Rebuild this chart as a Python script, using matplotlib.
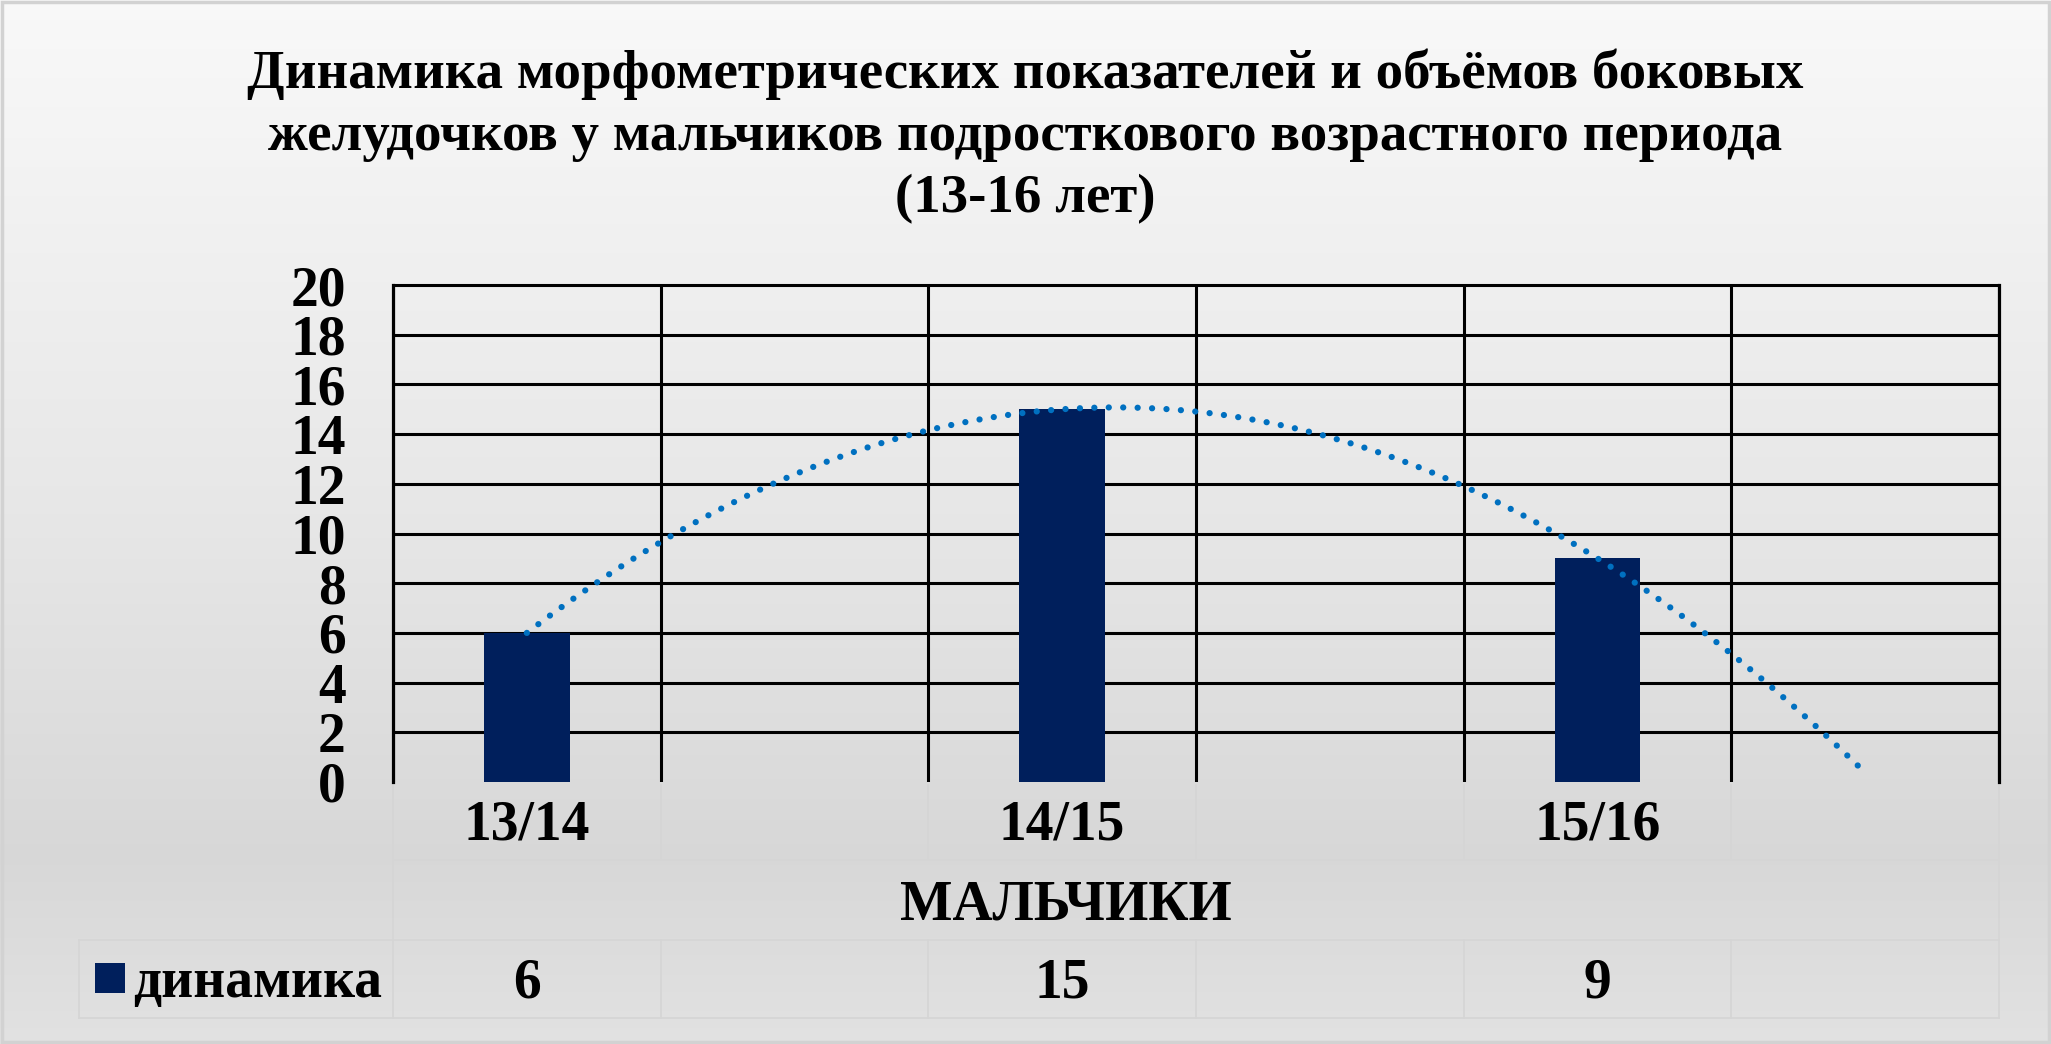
import numpy as np
import matplotlib
matplotlib.use("Agg")
import matplotlib.pyplot as plt
from matplotlib.patches import Rectangle
from matplotlib.transforms import blended_transform_factory
from matplotlib.colors import LinearSegmentedColormap

# ---- data ----
title = ("Динамика морфометрических показателей и объёмов боковых\n"
         "желудочков у мальчиков подросткового возрастного периода\n"
         "(13-16 лет)")
categories = ["13/14", "", "14/15", "", "15/16", ""]
values = [6, np.nan, 15, np.nan, 9, np.nan]
series_name = "динамика"
axis_title = "МАЛЬЧИКИ"
y_ticks = [0, 2, 4, 6, 8, 10, 12, 14, 16, 18, 20]

W, H = 2051, 1044
DPI = 100
FONT = "Liberation Serif"
FS = 40
NAVY = "#001F5C"
TREND = "#0070C0"

plt.rcParams['font.family'] = [FONT, 'DejaVu Serif']
plt.rcParams['font.weight'] = 'bold'

fig = plt.figure(figsize=(W / DPI, H / DPI), dpi=DPI)

def fx(px):
    return px / W

def fy(py):
    return 1 - py / H

# ---- background gradient ----
bg = fig.add_axes([0, 0, 1, 1], zorder=-10)
bg.set_axis_off()
cmap = LinearSegmentedColormap.from_list(
    "bg", [(0.0, (0.975,) * 3), (0.5, (0.905,) * 3), (0.82, (0.845,) * 3), (1.0, (0.885,) * 3)])
grad = np.linspace(0, 1, 512).reshape(-1, 1)
bg.imshow(grad, aspect="auto", cmap=cmap, extent=[0, 1, 0, 1], origin="upper")
bg.set_xlim(0, 1)
bg.set_ylim(0, 1)
fig.patches.append(Rectangle((0.0008, 0.0015), 0.9984, 0.997, transform=fig.transFigure,
                             fill=False, edgecolor="#d2d2d2", lw=2.5))

# ---- plot area ----
L, R, T, B = 393, 1999, 285, 782
ax = fig.add_axes([fx(L), fy(B), fx(R) - fx(L), fy(T) - fy(B)])
ax.patch.set_alpha(0)
x = np.arange(len(categories))
vals = np.array(values, dtype=float)
ax.bar(x, vals, width=0.32, color=NAVY, zorder=3)

# polynomial (order 2) trend line, forecast one period forward
mask = ~np.isnan(vals)
coef = np.polyfit(x[mask], vals[mask], 2)
xs = np.linspace(x[mask][0], x[-1], 300)
ax.plot(xs, np.polyval(coef, xs), color=TREND, lw=4.5,
        linestyle=(0, (0.01, 2.3)), dash_capstyle="round", zorder=4)

ax.set_xlim(-0.5, len(categories) - 0.5)
ax.set_ylim(y_ticks[0], y_ticks[-1])
ax.set_yticks(y_ticks)
ax.set_yticklabels([str(v) for v in y_ticks], fontsize=FS, fontweight="bold")
ax.tick_params(axis="y", length=0, pad=34)
ax.set_xticks([])
for s in ["top", "bottom"]:
    ax.spines[s].set_visible(False)
for s in ["left", "right"]:
    ax.spines[s].set_linewidth(2.3)
    ax.spines[s].set_color("black")
ax.hlines(y_ticks[1:], -0.5, len(categories) - 0.5, colors="black", lw=2.2,
          clip_on=False, zorder=2)
ax.vlines(np.arange(len(categories) + 1) - 0.5, y_ticks[0], y_ticks[-1],
          colors="black", lw=2.2, zorder=2)

# ---- data table ----
tr = blended_transform_factory(ax.transData, fig.transFigure)
for xi, lab in zip(x, categories):
    ax.text(xi, fy(840), lab, transform=tr, ha="center", va="baseline",
            fontsize=FS, fontweight="bold")
for xi, v in zip(x, vals):
    if not np.isnan(v):
        ax.text(xi, fy(997), f"{v:g}", transform=tr, ha="center", va="baseline",
                fontsize=FS, fontweight="bold")
fig.text(fx(1066), fy(920), axis_title, ha="center", va="baseline",
         fontsize=FS, fontweight="bold")

# faint table lines
tcol = "#d5d5d5"
tlw = 1.2
bounds = np.arange(len(categories) + 1) - 0.5
for b in bounds:
    ax.plot([b, b], [fy(785), fy(860)], transform=tr, color=tcol, lw=tlw, clip_on=False, zorder=1)
    ax.plot([b, b], [fy(940), fy(1018)], transform=tr, color=tcol, lw=tlw, clip_on=False, zorder=1)
ax.plot([bounds[0], bounds[0]], [fy(860), fy(940)], transform=tr, color=tcol, lw=tlw, clip_on=False)
ax.plot([bounds[-1], bounds[-1]], [fy(860), fy(940)], transform=tr, color=tcol, lw=tlw, clip_on=False)
ax.plot([bounds[0], bounds[-1]], [fy(860), fy(860)], transform=tr, color=tcol, lw=tlw, clip_on=False)
for yy in (940, 1018):
    fig.add_artist(plt.Line2D([fx(79), fx(R)], [fy(yy), fy(yy)], color=tcol, lw=tlw))
fig.add_artist(plt.Line2D([fx(79), fx(79)], [fy(940), fy(1018)], color=tcol, lw=tlw))

# legend key + series name
fig.patches.append(Rectangle((fx(95), fy(993)), fx(125) - fx(95), fy(963) - fy(993),
                             transform=fig.transFigure, facecolor=NAVY, edgecolor="none"))
fig.text(fx(133), fy(997), series_name, ha="left", va="baseline",
         fontsize=FS, fontweight="bold")

# ---- title (va='baseline' aligns the last line) ----
fig.text(0.5, fy(212), title, ha="center", va="baseline", fontsize=39.5,
         fontweight="bold", linespacing=1.32)

fig.savefig("out.png", dpi=DPI)
